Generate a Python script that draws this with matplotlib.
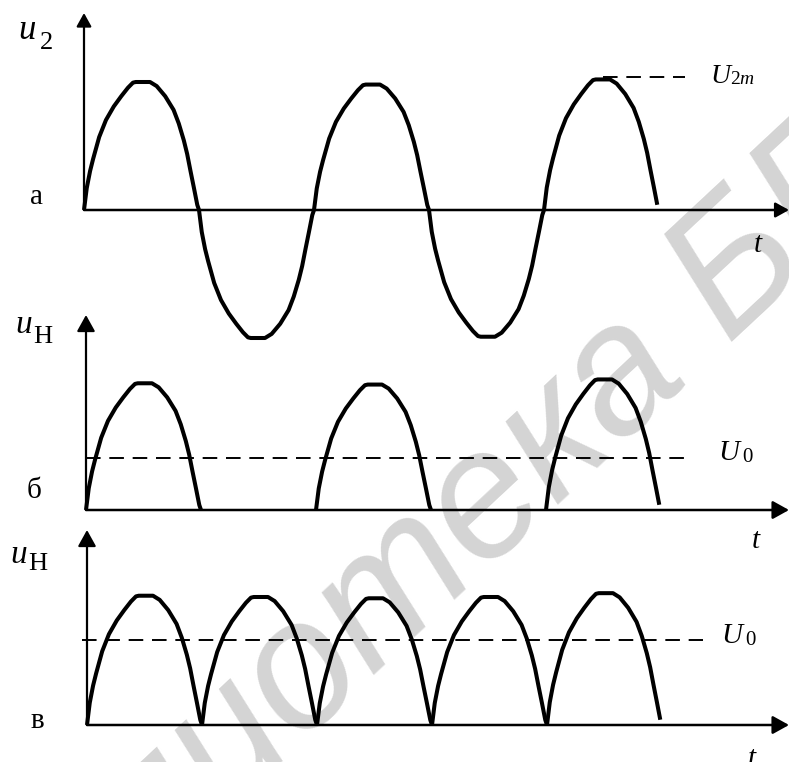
import matplotlib
matplotlib.use("Agg")
import matplotlib.pyplot as plt

# ==========================
# Picture geometry (pixels)
# ==========================
W_PX, H_PX = 789, 762
HALF_PX = 115      # width of one half-wave
AMP_PX = 128       # amplitude U2m

# ==========================
# Data
# ==========================

# shape of one half-wave: phase (0..1) and relative value
bump_phase = [0.0, 0.024, 0.053, 0.079, 0.132, 0.191, 0.259, 0.324,
              0.382, 0.426, 0.45, 0.55, 0.574, 0.632, 0.706, 0.779,
              0.824, 0.868, 0.897, 0.926, 0.956, 0.985, 1.0]
bump_value = [0.0, 0.172, 0.305, 0.398, 0.570, 0.703, 0.809, 0.889,
              0.955, 0.995, 1.0, 1.0, 1.0, 0.968, 0.889, 0.782,
              0.676, 0.544, 0.438, 0.305, 0.172, 0.040, 0.0]

# a: secondary voltage u2 (half-wave starts, signed peaks)
a_starts = [0, 1, 2, 3, 4]
a_peaks = [1.0, -1.0, 0.98, -0.99, 1.02]
a_u2m = 1.04
a_u2m_span = [4.51, 5.23]

# б: half-wave rectifier output
b_starts = [0, 2, 4]
b_peaks = [0.99, 0.98, 1.02]
b_u0 = 0.406
b_u0_span = [0.0, 5.27]

# в: full-wave rectifier output
c_starts = [0, 1, 2, 3, 4]
c_peaks = [1.01, 1.0, 0.99, 1.0, 1.03]
c_u0 = 0.664
c_u0_span = [-0.04, 5.36]

SERIF = "Liberation Serif"

fig = plt.figure(figsize=(W_PX / 100, H_PX / 100), dpi=100)


def px(x, y):
    return x / W_PX, 1 - y / H_PX


def panel(x0, zero_px):
    ax = fig.add_axes([0, 0, 1, 1])
    ax.set_axis_off()
    ax.patch.set_visible(False)
    ax.set_xlim(-x0 / HALF_PX, (W_PX - x0) / HALF_PX)
    ax.set_ylim(-(H_PX - zero_px) / AMP_PX, zero_px / AMP_PX)
    return ax


def draw_bumps(ax, starts, peaks, cut_last=False):
    for i, (s, p) in enumerate(zip(starts, peaks)):
        n = len(bump_phase)
        if cut_last and i == len(starts) - 1:
            n -= 1
        xs = [s + f for f in bump_phase[:n]]
        ys = [p * v for v in bump_value[:n]]
        ax.plot(xs, ys, color="black", lw=2.9,
                solid_joinstyle="round", solid_capstyle="butt")


def draw_axes(ax, x_tip, y_tip, ms):
    style = "-|>,head_length=0.9,head_width=0.5"
    ax.annotate("", xy=(x_tip, 0), xytext=(0, 0), annotation_clip=False,
                arrowprops=dict(arrowstyle=style, lw=1.8, color="black",
                                shrinkA=0, shrinkB=0, mutation_scale=ms))
    ax.annotate("", xy=(0, y_tip), xytext=(0, 0), annotation_clip=False,
                arrowprops=dict(arrowstyle=style, lw=1.6, color="black",
                                shrinkA=0, shrinkB=0, mutation_scale=ms))


def dashed(ax, span, level):
    ax.plot(span, [level, level], color="black", lw=1.4,
            dashes=(7.5, 4.5), solid_capstyle="butt")


def label(x, y, s, size, style="normal"):
    fig.text(*px(x, y), s, fontsize=size, family=SERIF, style=style,
             ha="left", va="baseline")


# watermark
fig.text(*px(505, 490), "Библиотека БГУИР", rotation=43, fontsize=130,
         family="Liberation Sans", style="italic", color="#d4d4d4",
         ha="center", va="center", rotation_mode="anchor", zorder=-1)

# ==========================
# Panel a
# ==========================
ax_a = panel(84, 210)
draw_axes(ax_a, (W_PX - 84) / HALF_PX, (210 - 13) / AMP_PX, 9)
draw_bumps(ax_a, a_starts, a_peaks, cut_last=True)
dashed(ax_a, a_u2m_span, a_u2m)

# ==========================
# Panel б
# ==========================
ax_b = panel(86, 510)
draw_axes(ax_b, (W_PX - 86) / HALF_PX, (510 - 315) / AMP_PX, 11)
draw_bumps(ax_b, b_starts, b_peaks, cut_last=True)
dashed(ax_b, b_u0_span, b_u0)

# ==========================
# Panel в
# ==========================
ax_c = panel(87, 725)
draw_axes(ax_c, (W_PX - 87) / HALF_PX, (725 - 530) / AMP_PX, 11)
draw_bumps(ax_c, c_starts, c_peaks, cut_last=True)
dashed(ax_c, c_u0_span, c_u0)

# ==========================
# Labels
# ==========================
label(18, 39, "u", 25, "italic")
label(40, 49, "2", 19)
label(30, 204, "а", 21)
label(754, 252, "t", 21, "italic")
label(710, 83, "U", 20, "italic")
label(730, 84, "2", 14)
label(739, 84, "m", 14, "italic")

label(15, 333, "u", 24, "italic")
label(33, 343, "Н", 19)
label(27, 498, "б", 21)
label(752, 548, "t", 21, "italic")
label(718, 460, "U", 21, "italic")
label(742, 462, "0", 15)

label(10, 563, "u", 24, "italic")
label(28, 570, "Н", 19)
label(31, 728, "в", 21)
label(748, 766, "t", 21, "italic")
label(721, 643, "U", 21, "italic")
label(745, 645, "0", 15)

fig.savefig("out.png", dpi=100)
